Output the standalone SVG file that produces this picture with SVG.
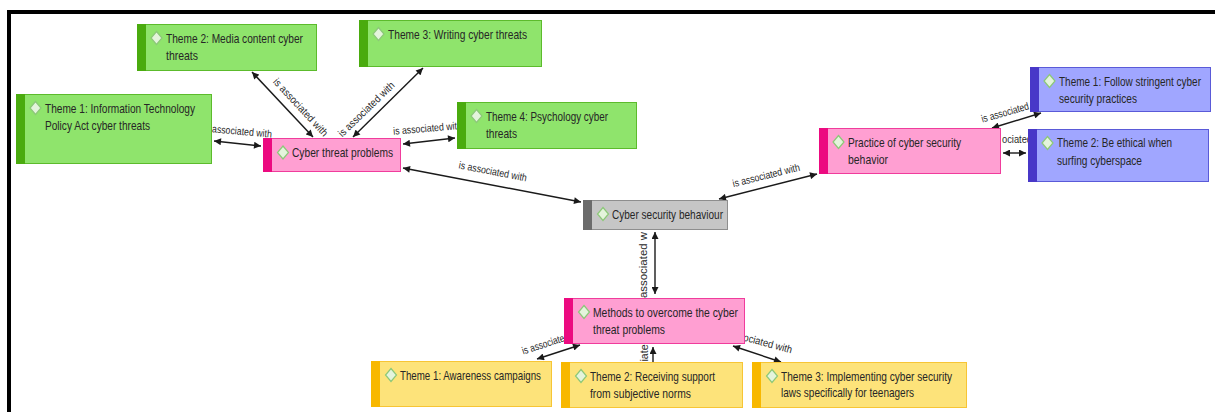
<svg xmlns="http://www.w3.org/2000/svg" xmlns:xlink="http://www.w3.org/1999/xlink" width="1215" height="412" viewBox="0 0 1215 412">
<style>
.bg{fill:#ffffff}
.frame{stroke:#000;stroke-width:4;fill:none}
.con{stroke:#1a1a1a;stroke-width:1.4;fill:none;marker-start:url(#ah);marker-end:url(#ah)}
.lbl{font-family:"Liberation Sans",Arial,sans-serif;font-size:10.5px;fill:#2a2a2a;text-anchor:middle;dominant-baseline:central}
.lbls{font-family:"Liberation Sans",Arial,sans-serif;font-size:10.5px;fill:#2a2a2a}
.t{font-family:"Liberation Sans",Arial,sans-serif;font-size:13px;fill:#262626}
.g{fill:#8fe46c;stroke:#5cbb2c;stroke-width:1}
.gs{fill:#4aab0e}
.p{fill:#ff9fd2;stroke:#f03c9c;stroke-width:1}
.ps{fill:#ec0a80}
.b{fill:#a0a6ff;stroke:#5a5ad8;stroke-width:1}
.bs{fill:#4838c8}
.y{fill:#fde37a;stroke:#f7c535;stroke-width:1}
.ys{fill:#f8b800}
.k{fill:#c6c6c6;stroke:#8e8e8e;stroke-width:1}
.ks{fill:#6b6b6b}
.dia{fill:#e4f4dc;stroke:#8cc878;stroke-width:1.2}
</style>
<defs>
<marker id="ah" viewBox="0 0 10 10" refX="10" refY="5" markerWidth="8" markerHeight="7" markerUnits="userSpaceOnUse" orient="auto-start-reverse">
<path d="M0,0 L10,5 L0,10 z" fill="#1a1a1a"/>
</marker>
<path id="dia" class="dia" d="M0,-6.5 L5.5,0 L0,6.5 L-5.5,0 Z"/>
</defs>
<rect class="bg" x="0" y="0" width="1215" height="412"/>
<path class="frame" d="M9,412 L9,12 L1215,12"/>

<g id="connectors">
<line class="con" x1="214" y1="141" x2="261" y2="146"/>
<text class="lbl" transform="translate(242,131) rotate(5)" textLength="60" lengthAdjust="spacingAndGlyphs">associated with</text>

<line class="con" x1="252" y1="72" x2="313" y2="137"/>
<text class="lbl" transform="translate(301,107) rotate(47)" textLength="75" lengthAdjust="spacingAndGlyphs">is associated with</text>

<line class="con" x1="423" y1="68" x2="353" y2="137"/>
<text class="lbl" transform="translate(366,109) rotate(-44)" textLength="74" lengthAdjust="spacingAndGlyphs">is associated with</text>

<line class="con" x1="403" y1="144" x2="455" y2="138"/>
<text class="lbl" transform="translate(425,128) rotate(-5)" textLength="64" lengthAdjust="spacingAndGlyphs">is associated wit</text>

<line class="con" x1="403" y1="168" x2="581" y2="202"/>
<text class="lbl" transform="translate(493,171) rotate(11)" textLength="69" lengthAdjust="spacingAndGlyphs">is associated with</text>

<line class="con" x1="719" y1="199" x2="817" y2="174"/>
<text class="lbl" transform="translate(766,175) rotate(-14)" textLength="69" lengthAdjust="spacingAndGlyphs">is associated with</text>

<line class="con" x1="992" y1="128" x2="1041" y2="113"/>
<text class="lbl" transform="translate(1005,112) rotate(-16)" textLength="49" lengthAdjust="spacingAndGlyphs">is associated</text>

<line class="con" x1="1003" y1="153" x2="1026" y2="153"/>
<text class="lbls" x="1002" y="143" textLength="30" lengthAdjust="spacingAndGlyphs">ociated</text>

<line class="con" x1="655" y1="232" x2="655" y2="294"/>
<text class="lbl" transform="translate(643,265) rotate(-90)" textLength="66" lengthAdjust="spacingAndGlyphs">associated w</text>

<line class="con" x1="580" y1="345" x2="537" y2="359"/>
<text class="lbl" transform="translate(543,344) rotate(-18)" textLength="44" lengthAdjust="spacingAndGlyphs">is associate</text>

<line class="con" x1="653" y1="372" x2="653" y2="347"/>
<text class="lbl" transform="translate(644,353) rotate(-90)" textLength="17" lengthAdjust="spacingAndGlyphs">iate</text>

<line class="con" x1="733" y1="346" x2="781" y2="362"/>
<text class="lbl" transform="translate(768,343) rotate(15)" textLength="50" lengthAdjust="spacingAndGlyphs">ociated with</text>
</g>

<g id="theme2-media">
<rect class="g" x="137.5" y="24.5" width="179" height="46"/>
<rect class="gs" x="137" y="24" width="9" height="47"/>
<use xlink:href="#dia" x="156.5" y="38"/>
<text class="t" x="166" y="43" textLength="137" lengthAdjust="spacingAndGlyphs">Theme 2: Media content cyber</text>
<text class="t" x="166" y="60" textLength="32" lengthAdjust="spacingAndGlyphs">threats</text>
</g>

<g id="theme1-it">
<rect class="g" x="16.5" y="94.5" width="195" height="69"/>
<rect class="gs" x="16" y="94" width="9" height="70"/>
<use xlink:href="#dia" x="35.5" y="108"/>
<text class="t" x="45" y="113" textLength="150" lengthAdjust="spacingAndGlyphs">Theme 1: Information Technology</text>
<text class="t" x="45" y="130" textLength="105" lengthAdjust="spacingAndGlyphs">Policy Act cyber threats</text>
</g>

<g id="cyber-threat-problems">
<rect class="p" x="263.5" y="138.5" width="137" height="33"/>
<rect class="ps" x="263" y="138" width="9" height="34"/>
<use xlink:href="#dia" x="283" y="152.5"/>
<text class="t" x="292" y="157" textLength="101" lengthAdjust="spacingAndGlyphs">Cyber threat problems</text>
</g>

<g id="theme3-writing">
<rect class="g" x="359.5" y="20.5" width="182" height="46"/>
<rect class="gs" x="359" y="20" width="9" height="47"/>
<use xlink:href="#dia" x="378.5" y="34"/>
<text class="t" x="388" y="39" textLength="139" lengthAdjust="spacingAndGlyphs">Theme 3: Writing cyber threats</text>
</g>

<g id="theme4-psychology">
<rect class="g" x="457.5" y="102.5" width="179" height="46"/>
<rect class="gs" x="457" y="102" width="9" height="47"/>
<use xlink:href="#dia" x="476.5" y="116"/>
<text class="t" x="486" y="121" textLength="122" lengthAdjust="spacingAndGlyphs">Theme 4: Psychology cyber</text>
<text class="t" x="486" y="138" textLength="31" lengthAdjust="spacingAndGlyphs">threats</text>
</g>

<g id="practice">
<rect class="p" x="819.5" y="128.5" width="181" height="45"/>
<rect class="ps" x="819" y="128" width="9" height="46"/>
<use xlink:href="#dia" x="838.5" y="142"/>
<text class="t" x="848" y="147" textLength="113" lengthAdjust="spacingAndGlyphs">Practice of cyber security</text>
<text class="t" x="848" y="164" textLength="40" lengthAdjust="spacingAndGlyphs">behavior</text>
</g>

<g id="theme1-follow">
<rect class="b" x="1030.5" y="67.5" width="180" height="44"/>
<rect class="bs" x="1030" y="67" width="9" height="45"/>
<use xlink:href="#dia" x="1049.5" y="81"/>
<text class="t" x="1059" y="86" textLength="142" lengthAdjust="spacingAndGlyphs">Theme 1: Follow stringent cyber</text>
<text class="t" x="1059" y="103" textLength="78" lengthAdjust="spacingAndGlyphs">security practices</text>
</g>

<g id="theme2-ethical">
<rect class="b" x="1028.5" y="129.5" width="180" height="52"/>
<rect class="bs" x="1028" y="129" width="9" height="53"/>
<use xlink:href="#dia" x="1047.5" y="143"/>
<text class="t" x="1057" y="147" textLength="115" lengthAdjust="spacingAndGlyphs">Theme 2: Be ethical when</text>
<text class="t" x="1057" y="165" textLength="85" lengthAdjust="spacingAndGlyphs">surfing cyberspace</text>
</g>

<g id="cyber-security-behaviour">
<rect class="k" x="583.5" y="200.5" width="144" height="29"/>
<rect class="ks" x="583" y="200" width="9" height="30"/>
<use xlink:href="#dia" x="603" y="214"/>
<text class="t" x="612" y="219" textLength="111" lengthAdjust="spacingAndGlyphs">Cyber security behaviour</text>
</g>

<g id="methods">
<rect class="p" x="564.5" y="298.5" width="180" height="45"/>
<rect class="ps" x="564" y="298" width="9" height="46"/>
<use xlink:href="#dia" x="584" y="312"/>
<text class="t" x="593" y="317" textLength="145" lengthAdjust="spacingAndGlyphs">Methods to overcome the cyber</text>
<text class="t" x="593" y="334" textLength="72" lengthAdjust="spacingAndGlyphs">threat problems</text>
</g>

<g id="theme1-awareness">
<rect class="y" x="371.5" y="361.5" width="180" height="45"/>
<rect class="ys" x="371" y="361" width="9" height="46"/>
<use xlink:href="#dia" x="391" y="375"/>
<text class="t" x="400" y="380" textLength="141" lengthAdjust="spacingAndGlyphs">Theme 1: Awareness campaigns</text>
</g>

<g id="theme2-receiving">
<rect class="y" x="561.5" y="362.5" width="181" height="45"/>
<rect class="ys" x="561" y="362" width="9" height="46"/>
<use xlink:href="#dia" x="581" y="376"/>
<text class="t" x="590" y="381" textLength="125" lengthAdjust="spacingAndGlyphs">Theme 2: Receiving support</text>
<text class="t" x="590" y="398" textLength="101" lengthAdjust="spacingAndGlyphs">from subjective norms</text>
</g>

<g id="theme3-implementing">
<rect class="y" x="752.5" y="362.5" width="214" height="45"/>
<rect class="ys" x="752" y="362" width="9" height="46"/>
<use xlink:href="#dia" x="772" y="376"/>
<text class="t" x="781" y="381" textLength="171" lengthAdjust="spacingAndGlyphs">Theme 3: Implementing cyber security</text>
<text class="t" x="781" y="397" textLength="133" lengthAdjust="spacingAndGlyphs">laws specifically for teenagers</text>
</g>
</svg>
